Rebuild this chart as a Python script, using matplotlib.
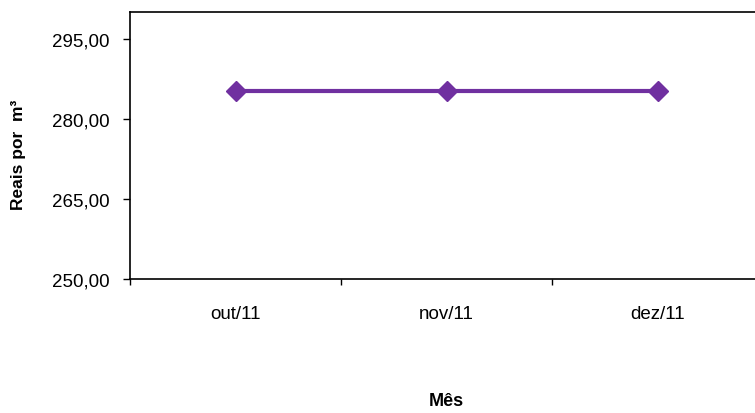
import matplotlib
matplotlib.use("Agg")
import matplotlib.pyplot as plt
from matplotlib.ticker import FixedLocator, FuncFormatter

plt.rcParams['font.family'] = ['Liberation Sans', 'DejaVu Sans']

# preço médio mensal
meses = ["out/11", "nov/11", "dez/11"]
precos = [285.2, 285.2, 285.2]
y_ticks = [250, 265, 280, 295]

fig = plt.figure(figsize=(7.55, 4.14), dpi=100)
ax = fig.add_axes([130 / 755, 1 - 280 / 414, 633 / 755, 267 / 414])

x = list(range(len(meses)))
ax.plot(x, precos, color="#7030A0", linewidth=3, marker="D", markersize=10,
        clip_on=False)

ax.set_xlim(-0.5, len(meses) - 0.5)
ax.set_ylim(250, 300)
ax.set_yticks(y_ticks)
ax.yaxis.set_major_formatter(FuncFormatter(lambda v, p: f"{v:.2f}".replace(".", ",")))

ax.set_xticks(x)
ax.set_xticklabels(meses)
ax.xaxis.set_minor_locator(FixedLocator([i - 0.5 for i in range(len(meses) + 1)]))
ax.tick_params(axis="x", which="major", length=0, pad=19, labelsize=13.5)
ax.tick_params(axis="x", which="minor", length=4, width=1, direction="out")
ax.tick_params(axis="y", length=5, width=1, direction="out", pad=10, labelsize=13.5)

for s in ["left", "top", "bottom"]:
    ax.spines[s].set_linewidth(1.2)
ax.spines["right"].set_visible(False)

fig.text(19 / 755, 1 - 155 / 414, "Reais por  m³", rotation=90, ha="center", va="center",
         fontsize=12.5, fontweight="bold")
fig.text(446 / 755, 1 - 402 / 414, "Mês", ha="center", va="center",
         fontsize=13, fontweight="bold")

fig.savefig("out.png", dpi=100)
